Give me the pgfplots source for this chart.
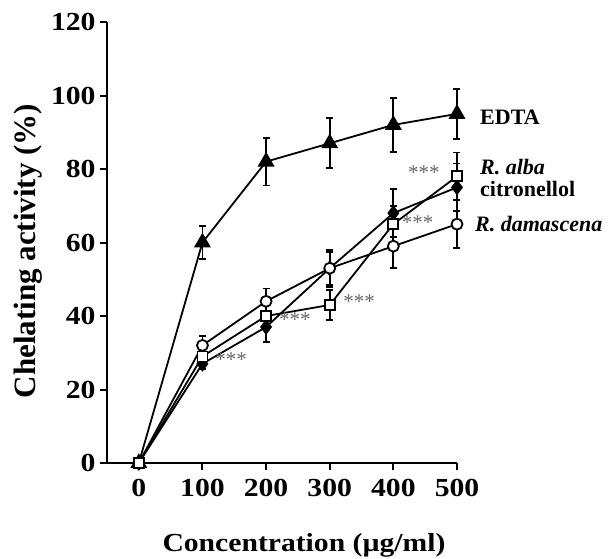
\documentclass[border=0pt]{standalone}
\usepackage{fontspec}
\setmainfont{Liberation Serif}
\newfontfamily\wide{Liberation Serif}[FakeStretch=1.14]
\usepackage{pgfplots}
\pgfplotsset{compat=1.18}
\begin{document}
\begin{tikzpicture}
\useasboundingbox (-107pt,-95pt) rectangle (501pt,463pt);
\begin{axis}[
  at={(0pt,0pt)}, anchor=south west,
  scale only axis,
  width=350pt, height=441pt,
  xmin=-50, xmax=500, ymin=0, ymax=120,
  axis lines=left,
  axis line style={line width=2.2pt, -},
  xtick={0,100,...,500}, ytick={0,20,...,120},
  tick align=outside,
  major tick length=7pt,
  tick style={line width=2pt, black},
  /pgf/number format/assume math mode=true,
  ticklabel style={font=\wide\fontsize{26}{28}\selectfont\bfseries},
  yticklabel style={xshift=-1pt},
  xticklabel style={yshift=-6pt},
  xlabel={Concentration (µg/ml)},
  ylabel={Chelating activity (\%)},
  xlabel style={font=\wide\fontsize{26}{28}\selectfont\bfseries,
    at={(axis description cs:0.5629,-0.2018)}, anchor=base},
  ylabel style={font=\fontsize{31}{33}\selectfont\bfseries,
    at={(axis description cs:-0.2057,0.4807)}, anchor=base},
  clip=false,
]
% EDTA
\addplot[black, line width=1.8pt, mark=triangle*, mark size=8pt, mark options={fill=black, solid},
  error bars/.cd, y dir=both, y explicit,
  error bar style={line width=1.8pt, black},
  error mark options={rotate=90, mark size=3.5pt, line width=1.8pt, black}]
  table[x=x, y=y, y error=e] {
x y e
0 0 0
100 60 4.5
200 82 6.5
300 87 6.8
400 92 7.3
500 95 6.8
};
% citronellol
\addplot[black, line width=1.8pt, mark=diamond*, mark size=6.5pt, mark options={fill=black, solid},
  error bars/.cd, y dir=both, y explicit,
  error bar style={line width=1.8pt, black},
  error mark options={rotate=90, mark size=3.5pt, line width=1.8pt, black}]
  table[x=x, y=y, y error=e] {
x y e
0 0 0
100 27 1.5
200 37 4
300 53 4.5
400 68 6.5
500 75 6.5
};
% R. damascena
\addplot[black, line width=1.8pt, mark=*, mark size=5.5pt, mark options={fill=white, solid},
  error bars/.cd, y dir=both, y explicit,
  error bar style={line width=1.8pt, black},
  error mark options={rotate=90, mark size=3.5pt, line width=1.8pt, black}]
  table[x=x, y=y, y error=e] {
x y e
0 0 0
100 32 2.5
200 44 3.5
300 53 5
400 59 6
500 65 6.5
};
% R. alba
\addplot[black, line width=1.8pt, mark=square*, mark size=5pt, mark options={fill=white, solid},
  error bars/.cd, y dir=both, y explicit,
  error bar style={line width=1.8pt, black},
  error mark options={rotate=90, mark size=3.5pt, line width=1.8pt, black}]
  table[x=x, y=y, y error=e] {
x y e
0 0 0
100 29 2
200 40 3.5
300 43 4
400 65 5
500 78 6.5
};
\begin{scope}[every node/.style={anchor=west, inner sep=0pt, font=\fontsize{22}{24}\selectfont\bfseries}]
\node at (axis cs:500,94.1) [xshift=23pt] {EDTA};
\node at (axis cs:500,80.5) [xshift=23pt] {\itshape R. alba};
\node at (axis cs:500,74.6) [xshift=23pt] {citronellol};
\node at (axis cs:500,65) [xshift=18pt] {\itshape R. damascena};
\end{scope}
\begin{scope}[every node/.style={inner sep=0pt, font=\fontsize{21}{22}\selectfont, text=black!60}]
\node[anchor=west] at (axis cs:120,28) {***};
\node[anchor=west] at (axis cs:220,38.9) {***};
\node[anchor=west] at (axis cs:321,43.8) {***};
\node[anchor=west] at (axis cs:413,65.3) {***};
\node[anchor=east] at (axis cs:473,79) {***};
\end{scope}
\end{axis}
\end{tikzpicture}
\end{document}
